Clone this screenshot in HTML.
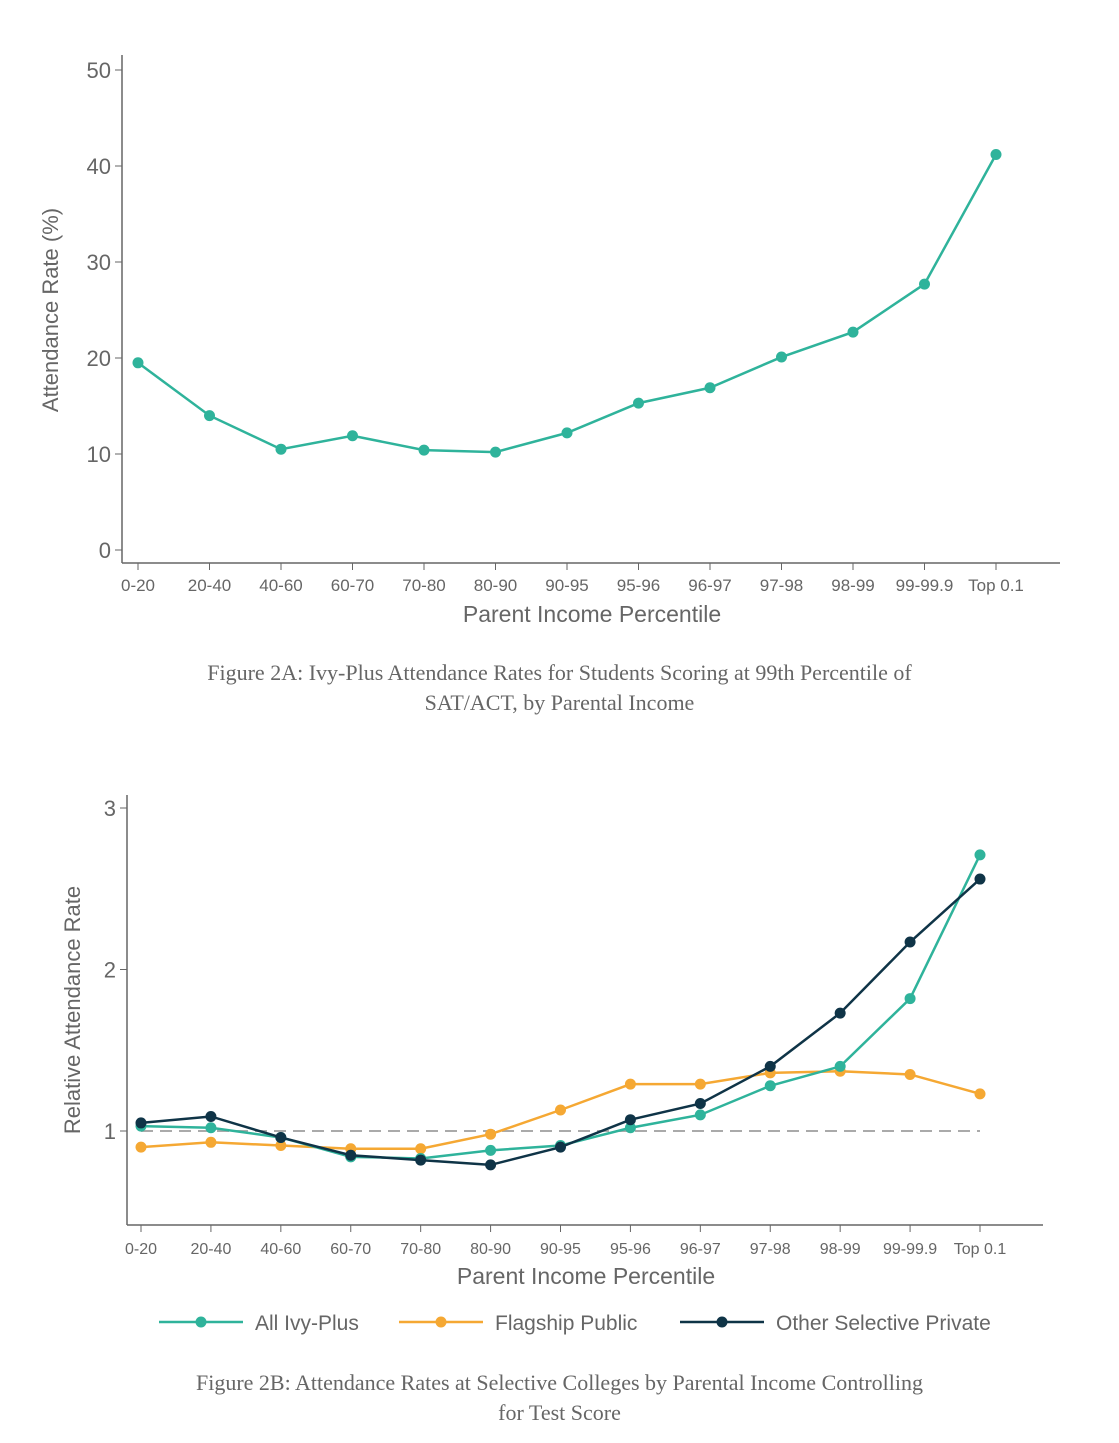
<!DOCTYPE html>
<html><head><meta charset="utf-8">
<style>
html,body{margin:0;padding:0;background:#fff;width:1119px;height:1443px;overflow:hidden}
svg{position:absolute;left:0;top:0}
.cap{position:absolute;left:0;width:1119px;text-align:center;font-family:"Liberation Serif",serif;font-size:22px;color:#666;line-height:30px}
</style></head><body>
<svg id="c1" width="1119" height="640"></svg>
<div class="cap" style="top:658px">Figure 2A: Ivy-Plus Attendance Rates for Students Scoring at 99th Percentile of<br>SAT/ACT, by Parental Income</div>
<svg id="c2" width="1119" height="1360" style="top:0"></svg>
<div class="cap" style="top:1368px">Figure 2B: Attendance Rates at Selective Colleges by Parental Income Controlling<br>for Test Score</div>
<script>
const categories=["0-20","20-40","40-60","60-70","70-80","80-90","90-95","95-96","96-97","97-98","98-99","99-99.9","Top 0.1"];
const ivyA=[19.5,14.0,10.5,11.9,10.4,10.2,12.2,15.3,16.9,20.1,22.7,27.7,41.2];
const ticksA=[0,10,20,30,40,50];
const ivyB=[1.03,1.02,0.96,0.84,0.83,0.88,0.91,1.02,1.10,1.28,1.40,1.82,2.71];
const flagB=[0.90,0.93,0.91,0.89,0.89,0.98,1.13,1.29,1.29,1.36,1.37,1.35,1.23];
const otherB=[1.05,1.09,0.96,0.85,0.82,0.79,0.90,1.07,1.17,1.40,1.73,2.17,2.56];
const ticksB=[1,2,3];
const NS="http://www.w3.org/2000/svg";
function mk(p,t,a){const e=document.createElementNS(NS,t);for(const k in a)e.setAttribute(k,a[k]);p.appendChild(e);return e;}
const G="#666",F='"Liberation Sans",sans-serif';
(function(){
const s=document.getElementById('c1');
const x=i=>138+i*(996-138)/12, y=v=>550-v*9.6;
let e=mk(s,'line',{x1:122,y1:55,x2:122,y2:563,stroke:G,'stroke-width':1.5});

e=mk(s,'line',{x1:122,y1:563,x2:1060,y2:563,stroke:G,'stroke-width':1.5});

ticksA.forEach(t=>{mk(s,'line',{x1:115,y1:y(t),x2:122,y2:y(t),stroke:G});
 e=mk(s,'text',{x:111,y:y(t)+8,'text-anchor':'end','font-family':F,'font-size':22,fill:G});e.textContent=t;
 });
categories.forEach((c,i)=>{mk(s,'line',{x1:x(i),y1:563,x2:x(i),y2:570,stroke:G});
 e=mk(s,'text',{x:x(i),y:591,'text-anchor':'middle','font-family':F,'font-size':17,fill:G});e.textContent=c;
 });
e=mk(s,'text',{x:592,y:622,'text-anchor':'middle','font-family':F,'font-size':23,fill:G});e.textContent='Parent Income Percentile';

e=mk(s,'text',{x:0,y:0,transform:'translate(58,310) rotate(-90)','text-anchor':'middle','font-family':F,'font-size':22,fill:G});e.textContent='Attendance Rate (%)';

e=mk(s,'polyline',{points:ivyA.map((v,i)=>x(i)+','+y(v)).join(' '),fill:'none',stroke:'#2fb39b','stroke-width':2.5});

ivyA.forEach((v,i)=>{e=mk(s,'circle',{cx:x(i),cy:y(v),r:5.5,fill:'#2fb39b'});
 });
})();
(function(){
const s=document.getElementById('c2');
const x=i=>141+i*(980-141)/12, y=v=>1131-(v-1)*161.5;
let e=mk(s,'line',{x1:127,y1:795,x2:127,y2:1225,stroke:G,'stroke-width':1.5});

e=mk(s,'line',{x1:127,y1:1225,x2:1043,y2:1225,stroke:G,'stroke-width':1.5});

ticksB.forEach(t=>{mk(s,'line',{x1:120,y1:y(t),x2:127,y2:y(t),stroke:G});
 e=mk(s,'text',{x:116,y:y(t)+8,'text-anchor':'end','font-family':F,'font-size':22,fill:G});e.textContent=t;
 });
categories.forEach((c,i)=>{mk(s,'line',{x1:x(i),y1:1225,x2:x(i),y2:1232,stroke:G});
 e=mk(s,'text',{x:x(i),y:1254,'text-anchor':'middle','font-family':F,'font-size':16,fill:G});e.textContent=c;
 });
e=mk(s,'text',{x:586,y:1284,'text-anchor':'middle','font-family':F,'font-size':23,fill:G});e.textContent='Parent Income Percentile';

e=mk(s,'text',{x:0,y:0,transform:'translate(80,1010) rotate(-90)','text-anchor':'middle','font-family':F,'font-size':22,fill:G});e.textContent='Relative Attendance Rate';

e=mk(s,'line',{x1:x(0),y1:y(1),x2:x(12),y2:y(1),stroke:'#aaa','stroke-width':2,'stroke-dasharray':'12,7'});

const series=[[flagB,'#f5a833','flagship-public'],[ivyB,'#2fb39b','all-ivy-plus'],[otherB,'#0f3447','other-selective-private']];
series.forEach(([d,c,n])=>{
 e=mk(s,'polyline',{points:d.map((v,i)=>x(i)+','+y(v)).join(' '),fill:'none',stroke:c,'stroke-width':2.5});
 
 d.forEach((v,i)=>{e=mk(s,'circle',{cx:x(i),cy:y(v),r:5.5,fill:c});
  });
});
const leg=[[159,'#2fb39b','All Ivy-Plus'],[399,'#f5a833','Flagship Public'],[680,'#0f3447','Other Selective Private']];
leg.forEach(([lx,c,t])=>{
 const g=mk(s,'g',{});
 
 mk(g,'line',{x1:lx,y1:1322,x2:lx+84,y2:1322,stroke:c,'stroke-width':2.5});
 mk(g,'circle',{cx:lx+42,cy:1322,r:5.5,fill:c});
 const tx=mk(g,'text',{x:lx+96,y:1330,'font-family':F,'font-size':21,fill:G});tx.textContent=t;
});
})();
</script>
</body></html>
